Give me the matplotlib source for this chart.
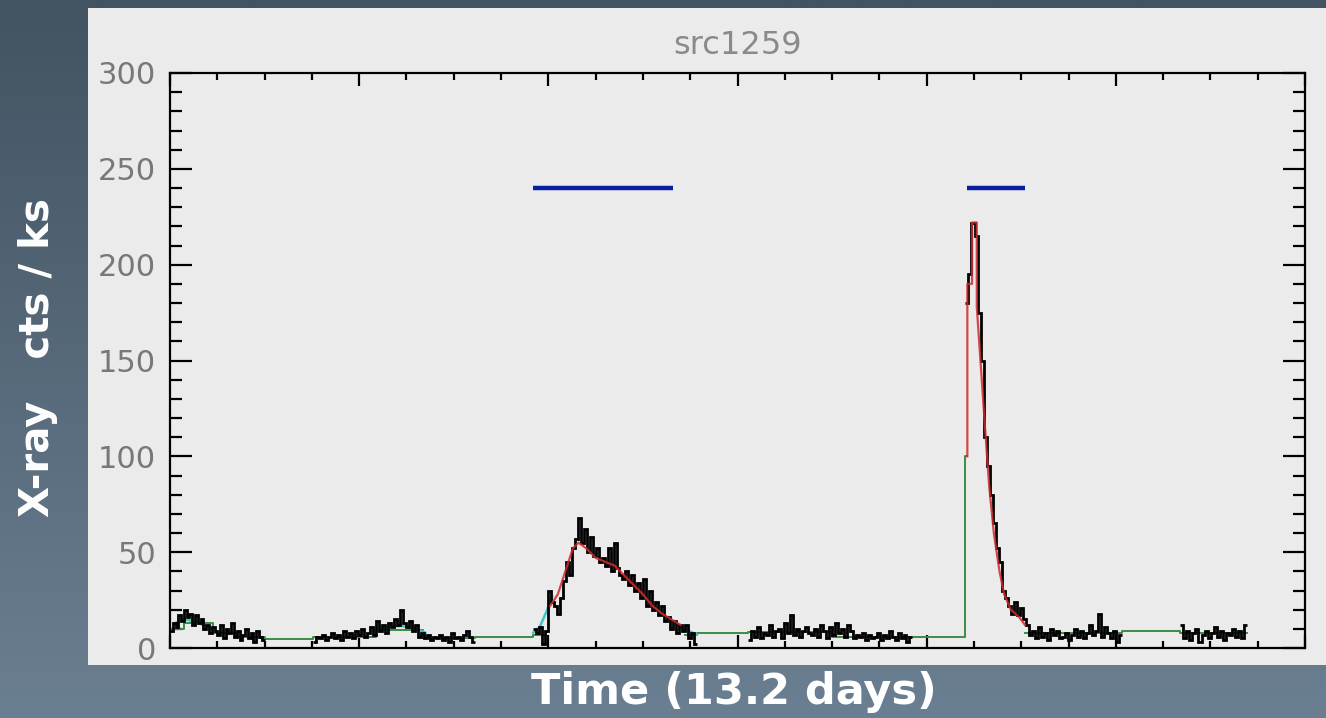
import numpy as np
import matplotlib
matplotlib.use("Agg")
import matplotlib.pyplot as plt
from matplotlib.patches import Rectangle

# ---------------- data (time in ks, rate in cts/ks) ----------------
seg_bounds = [(0, 100), (151, 322), (384, 557), (611, 785), (841, 1007), (1068, 1139)]

seg1 = [9, 13, 11, 17, 14, 20, 16, 18, 12, 17, 13, 15, 10, 12, 8, 11, 9, 7, 12, 5,
        10, 8, 13, 6, 9, 4, 7, 10, 5, 8, 3, 9, 6, 4]
seg2 = [3, 6, 5, 7, 4, 6, 8, 5, 7, 4, 9,
        6, 8, 5, 9, 7, 10, 6, 8, 11, 7,
        14, 9, 12, 8, 13, 11, 15, 12, 20, 13,
        11, 14, 9, 12, 6, 8, 5, 7, 4, 6,
        5, 7, 4, 6, 3, 8, 5, 6, 4, 7, 9, 6, 3]
seg3 = [10, 8, 11, 2, 9,
        30, 24, 22, 18, 26,
        35, 45, 38, 52, 57,
        68, 55, 62, 50, 58,
        48, 52, 45, 47, 43,
        52, 40, 55, 42, 38,
        36, 40, 33, 38, 30,
        34, 26, 36, 22, 30,
        20, 24, 17, 22, 14,
        16, 10, 14, 8, 12,
        9, 12, 5, 8, 2]
seg4 = [4, 9, 6, 11, 5, 8, 7, 12, 6, 9, 10, 5, 13, 8, 17, 7, 10, 6, 9, 11, 8, 7, 10, 6,
        12, 9, 5, 11, 7, 13, 8, 10, 6, 12, 9, 5, 7, 6, 8, 4, 7, 5, 6, 8, 4, 7, 5, 9, 6,
        4, 8, 5, 7, 3, 6]
seg5 = [180, 195, 222, 215, 175, 150, 110, 95, 80, 65, 52, 45, 30, 26, 22, 18, 24, 17, 21,
        15, 12,
        7, 9, 5, 11, 6, 8, 4, 10, 7, 9, 5, 6, 8, 4, 7, 10, 6, 9, 5, 8, 12, 7, 9, 18, 6, 11,
        8, 5, 9, 3, 7]
seg6 = [12, 5, 9, 4, 8, 10, 3, 7, 9, 5, 8, 11, 6, 9, 4, 8, 7, 10, 6, 9, 5, 12]
segments = [seg1, seg2, seg3, seg4, seg5, seg6]

# piecewise-constant (green) baseline blocks
green_edges = [0, 15, 45, 70, 100, 151, 218, 268, 322, 384, 396, 545, 557, 611, 700,
               785, 841, 843, 904, 1007, 1068, 1139]
green_levels = [10, 13, 8, 5.5, 4.7, 5.5, 9.5, 5, 6, 7, np.nan, 7, 8, 8.5, 6,
                5.7, 100, np.nan, 8, 9, 8]

# cyan smooth pieces
cyan_t = [[5, 15, 25, 35, 45], [215, 230, 245, 260, 270],
          [384, 391, 398, 404], [531, 540, 548, 557]]
cyan_v = [[13, 15, 14, 12, 10], [9, 11, 11.5, 10, 8],
          [8, 11, 19, 27], [14, 11, 9, 7]]

# red flare fits
red1_t = [402, 410, 418, 426, 432, 440, 450, 460, 470, 480, 490, 500, 510, 520, 530, 540]
red1_v = [22, 28, 40, 52, 55, 52, 47, 45, 43, 38, 33, 28, 22, 18, 15, 12]
red2_t = [843, 843, 848, 848, 853, 853, 861, 866, 871, 877, 882, 889, 898, 904]
red2_v = [100, 190, 190, 222, 222, 178, 120, 85, 60, 40, 28, 20, 16, 12]

# flare intervals (blue bars)
flare_start = [384, 843]
flare_end = [532, 904]
flare_level = 240

title = "src1259"
ylabel = "X-ray   cts / ks"
xlabel = "Time (13.2 days)"

# ---------------- figure ----------------
W, H = 1326, 718
fig = plt.figure(figsize=(W / 100, H / 100), dpi=100)

bg = fig.add_axes([0, 0, 1, 1], zorder=-10)
top = np.array([0x42, 0x53, 0x61]) / 255
bot = np.array([0x6b, 0x7f, 0x92]) / 255
t = np.linspace(0, 1, 256)[:, None]
grad = (top[None, :] * (1 - t) + bot[None, :] * t)[:, None, :]
bg.imshow(grad, aspect='auto', extent=[0, 1, 0, 1])
bg.axis('off')

panel = Rectangle((88 / W, 1 - 665 / H), (W - 88) / W, (665 - 8) / H,
                  transform=fig.transFigure, facecolor='#ebebeb', edgecolor='none', zorder=-5)
fig.patches.append(panel)

ax = fig.add_axes([170 / W, 1 - 648 / H, (1305 - 170) / W, (648 - 73) / H])
ax.set_facecolor('#ebebeb')

# green baseline
gx, gy = [], []
for i, lv in enumerate(green_levels):
    gx += [green_edges[i], green_edges[i + 1]]
    gy += [lv, lv]
ax.plot(gx, gy, color='#3c8c48', lw=1.4, zorder=2)

# cyan
for ct, cv in zip(cyan_t, cyan_v):
    ax.plot(ct, cv, color='#3cc4c8', lw=1.8, zorder=2.5)

# black binned light curve
for (s, e), vals in zip(seg_bounds, segments):
    edges = np.linspace(s, e, len(vals) + 1)
    ax.stairs(vals, edges, baseline=None, color='black', lw=2.0, zorder=3)

# red fits
ax.plot(red1_t, red1_v, color='#d02a2a', lw=1.6, alpha=0.85, zorder=4)
ax.plot(red2_t, red2_v, color='#d02a2a', lw=1.6, alpha=0.85, zorder=4)

# blue flare bars
for s, e in zip(flare_start, flare_end):
    ax.plot([s, e], [flare_level, flare_level], color='#0a1ea0', lw=3.2,
            solid_capstyle='butt', zorder=5)

ax.set_xlim(0, 1200)
ax.set_ylim(0, 300)
ax.set_xticks(np.arange(0, 1201, 200))
ax.set_xticks(np.arange(0, 1201, 50), minor=True)
ax.set_yticks(np.arange(0, 301, 50))
ax.set_yticks(np.arange(0, 301, 10), minor=True)

ax.tick_params(axis='x', which='major', direction='in', length=9.5, width=1.6,
               top=True, bottom=True, labelbottom=False, labeltop=False)
ax.tick_params(axis='x', which='minor', direction='in', length=5, width=1.6,
               top=True, bottom=True)
ax.tick_params(axis='y', which='major', direction='in', length=16, width=1.6,
               left=True, right=True, labelleft=True, labelright=False,
               labelsize=22, labelcolor='#787878', pad=10)
ax.tick_params(axis='y', which='minor', direction='in', length=8.5, width=1.6,
               left=True, right=True)
for sp in ax.spines.values():
    sp.set_linewidth(1.6)
    sp.set_color('black')

fig.text((170 + 1305) / 2 / W, 1 - 45 / H, title, ha='center', va='center',
         fontsize=23, color='#8a8a8a')
fig.text(38 / W, 1 - 358 / H, ylabel, ha='center', va='center', rotation=90,
         fontsize=29, fontweight='bold', color='white', family='DejaVu Sans')
fig.text(734 / W, 1 - 692 / H, xlabel, ha='center', va='center',
         fontsize=31, fontweight='bold', color='white', family='DejaVu Sans')

fig.savefig('out.png', dpi=100)
